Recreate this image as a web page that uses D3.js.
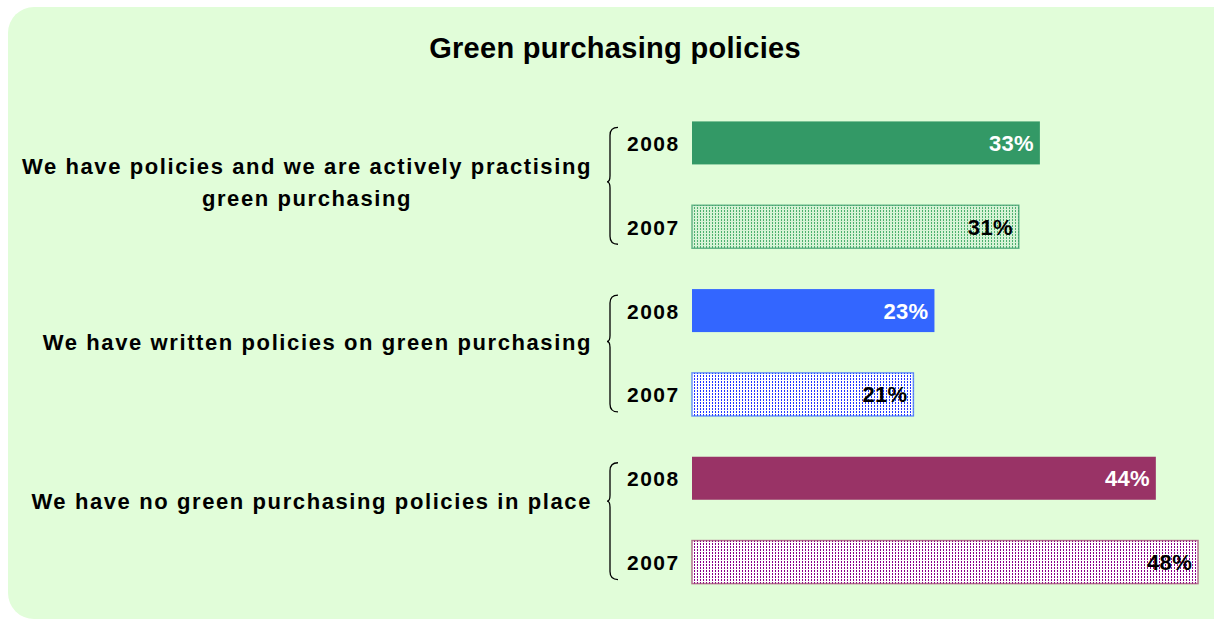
<!DOCTYPE html>
<html>
<head>
<meta charset="utf-8">
<script src="https://cdn.jsdelivr.net/npm/d3@7"></script>
<style>
  body { margin: 0; background: #fff; }
  text { font-family: "Liberation Sans", Arial, sans-serif; font-weight: bold; }
</style>
</head>
<body>
<div id="chart"></div>
<script>
let categories = [
    ["We have policies and we are actively practising", "green purchasing"],
    ["We have written policies on green purchasing"],
    ["We have no green purchasing policies in place"]
];
let years = ["2008", "2007"];
let values2008 = [33, 23, 44];
let values2007 = [31, 21, 48];
let colors = ["#339966", "#3366ff", "#993366"];

let svgWidth = 1214;
let svgHeight = 622;

let svg = d3.select("#chart")
    .append("svg")
    .attr("width", svgWidth)
    .attr("height", svgHeight);

// background panel
svg.append("rect")
    .attr("x", 8)
    .attr("y", 7)
    .attr("width", 1230)
    .attr("height", 612)
    .attr("rx", 26)
    .attr("fill", "#e1fdd9");

svg.append("text")
    .attr("x", 615)
    .attr("y", 58)
    .attr("text-anchor", "middle")
    .attr("font-size", 29)
    .attr("letter-spacing", 0.3)
    .text("Green purchasing policies");

// dotted patterns for 2007 bars
let defs = svg.append("defs");
let patBg = ["#d6f3d6", "#ffffff", "#ffffff"];
let patDot = ["#4caf6e", "#2233ff", "#880088"];
colors.forEach((c, i) => {
    let p = defs.append("pattern")
        .attr("id", "dots" + i)
        .attr("patternUnits", "userSpaceOnUse")
        .attr("width", 3)
        .attr("height", 3);
    p.append("rect").attr("width", 3).attr("height", 3).attr("fill", patBg[i]);
    p.append("rect").attr("x", 1).attr("width", 1).attr("height", 2).attr("fill", patDot[i]);
});

let rows = [];
categories.forEach((cat, i) => {
    rows.push({ key: i + "-2008", group: i, year: years[0], value: values2008[i] });
    rows.push({ key: i + "-2007", group: i, year: years[1], value: values2007[i] });
});

let y = d3.scaleBand()
    .domain(rows.map(d => d.key))
    .range([101, 604])
    .paddingInner(0.487)
    .paddingOuter(0.2435);

let x = d3.scaleLinear()
    .domain([0, 48])
    .range([692, 1198]);

svg.selectAll(".bar")
    .data(rows)
    .enter()
    .append("rect")
    .attr("class", "bar")
    .attr("x", x(0))
    .attr("y", d => y(d.key))
    .attr("width", d => x(d.value) - x(0))
    .attr("height", y.bandwidth())
    .attr("fill", d => d.year === "2008" ? colors[d.group] : `url(#dots${d.group})`)
    .attr("stroke", d => d.year === "2008" ? "none" : colors[d.group])
    .attr("stroke-opacity", 0.7)
    .attr("stroke-width", 1.5);

svg.selectAll(".val")
    .data(rows)
    .enter()
    .append("text")
    .attr("class", "val")
    .attr("x", d => x(d.value) - 6)
    .attr("y", d => y(d.key) + y.bandwidth() / 2 + 8)
    .attr("text-anchor", "end")
    .attr("font-size", 22)
    .attr("letter-spacing", 0.3)
    .attr("fill", d => d.year === "2008" ? "#ffffff" : "#000000")
    .text(d => d.value + "%");

svg.selectAll(".yr")
    .data(rows)
    .enter()
    .append("text")
    .attr("class", "yr")
    .attr("x", 627)
    .attr("y", d => y(d.key) + y.bandwidth() / 2 + 8)
    .attr("font-size", 21)
    .attr("letter-spacing", 1.5)
    .text(d => d.year);

// category labels and braces
let tipShift = [-3, -11, -19];
categories.forEach((lines, i) => {
    let top = y(i + "-2008") + 6;
    let bottom = y(i + "-2007") + y.bandwidth() - 4;
    let mid = (y(i + "-2008") + y(i + "-2007") + y.bandwidth()) / 2 + tipShift[i];

    let g = svg.append("g");
    let widest = 0;
    let tl = lines.map((ln, j) => {
        let t = g.append("text")
            .attr("font-size", 22)
            .attr("letter-spacing", 1.6)
            .attr("y", mid + 8 + (j - (lines.length - 1) / 2) * 32)
            .text(ln);
        widest = Math.max(widest, t.node().getComputedTextLength());
        return t;
    });
    // lines centred within the label box that ends at x=592
    let cx = 592 - widest / 2;
    tl.forEach(t => t.attr("x", cx).attr("text-anchor", "middle"));

    let bx = 618, tx = 607, k = 8;
    let path = `M${bx},${top} Q${bx - k},${top} ${bx - k},${top + k}`
        + ` L${bx - k},${mid - 6} Q${bx - k},${mid} ${tx},${mid}`
        + ` Q${bx - k},${mid} ${bx - k},${mid + 6}`
        + ` L${bx - k},${bottom - k} Q${bx - k},${bottom} ${bx},${bottom}`;
    svg.append("path")
        .attr("d", path)
        .attr("fill", "none")
        .attr("stroke", "#000")
        .attr("stroke-width", 1.3);
});
</script>
</body>
</html>
